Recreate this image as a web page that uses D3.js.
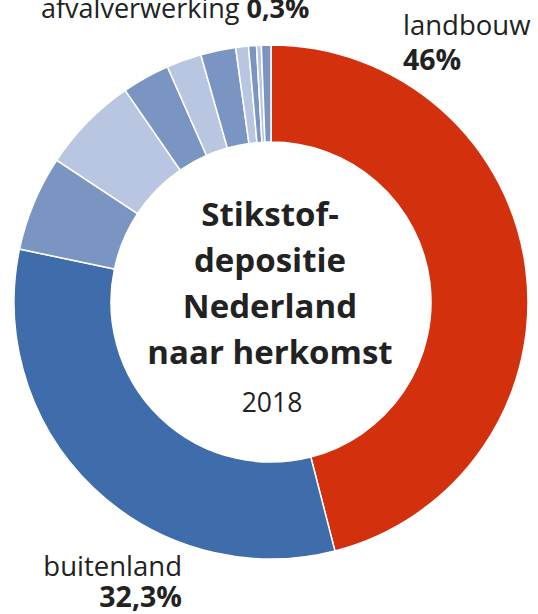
<!DOCTYPE html>
<html lang="nl">
<head>
<meta charset="UTF-8">
<script src="https://cdn.jsdelivr.net/npm/d3@7"></script>
<style>
    body { margin: 0; background: #fff; }
    svg { display: block; }
    text { font-family: "Open Sans", "Noto Sans", sans-serif; fill: #222; }
</style>
</head>
<body>
<div id="chart"></div>
<script>
    // sectors, clockwise from 12 o'clock
    const sectors = ["landbouw", "buitenland", "verkeer en vervoer", "huishoudens", "industrie",
        "achtergrond", "bouw", "energie", "overig", "afvalverwerking", "drinkwater"];
    const shares = [46, 32.3, 6.0, 6.1, 3.0, 2.2, 2.2, 0.8, 0.5, 0.3, 0.6];
    const tints = ["red", "dark", "mid", "light", "mid", "light", "mid", "light", "mid", "light", "mid"];

    const titleLines = ["Stikstof-", "depositie", "Nederland", "naar herkomst"];
    const year = "2018";

    const width = 538, height = 614;
    const cx = 271, cy = 302, outerR = 257, innerR = 160;

    const colour = d3.scaleOrdinal()
        .domain(["red", "dark", "mid", "light"])
        .range(["#d3300e", "#3f6cab", "#7b95c3", "#b9c6e1"]);

    const svg = d3.select("#chart").append("svg")
        .attr("width", width)
        .attr("height", height);

    const pie = d3.pie().sort(null).value(d => d.share);
    const arc = d3.arc().innerRadius(innerR).outerRadius(outerR);

    const data = sectors.map((s, i) => ({ sector: s, share: shares[i], tint: tints[i] }));

    svg.append("g")
        .attr("transform", `translate(${cx},${cy})`)
        .selectAll("path")
        .data(pie(data))
        .join("path")
        .attr("d", arc)
        .attr("fill", d => colour(d.data.tint))
        .attr("stroke", "#fff")
        .attr("stroke-width", 1.5);

    // centre title
    const title = svg.append("text")
        .attr("text-anchor", "middle")
        .attr("font-weight", 700)
        .attr("font-size", 33);
    titleLines.forEach((t, i) => {
        title.append("tspan").attr("x", cx - 1).attr("y", 226 + i * 46).text(t);
    });
    svg.append("text")
        .attr("x", cx + 1).attr("y", 412)
        .attr("text-anchor", "middle")
        .attr("font-size", 26.5)
        .text(year);

    const fmt = v => String(v).replace(".", ",") + "%";

    // outside labels: name on one line, bold share below (or inline)
    const lab = (name, share, x, y, gap, anchor, inline) => {
        if (inline) {
            const t = svg.append("text").attr("x", x).attr("y", y)
                .attr("text-anchor", anchor).attr("font-size", 27);
            t.append("tspan").text(name + " ");
            t.append("tspan").attr("font-weight", 700).text(fmt(share));
        } else {
            svg.append("text").attr("x", x).attr("y", y)
                .attr("text-anchor", anchor).attr("font-size", 27.5).text(name);
            svg.append("text").attr("x", x).attr("y", y + gap)
                .attr("text-anchor", anchor).attr("font-size", 28.5).attr("font-weight", 700)
                .text(fmt(share));
        }
    };

    lab(sectors[0], shares[0], 403, 35, 35, "start", false);
    lab(sectors[1], shares[1], 182, 576, 31, "end", false);
    lab(sectors[9], shares[9], 41, 18, 0, "start", true);
</script>
</body>
</html>
